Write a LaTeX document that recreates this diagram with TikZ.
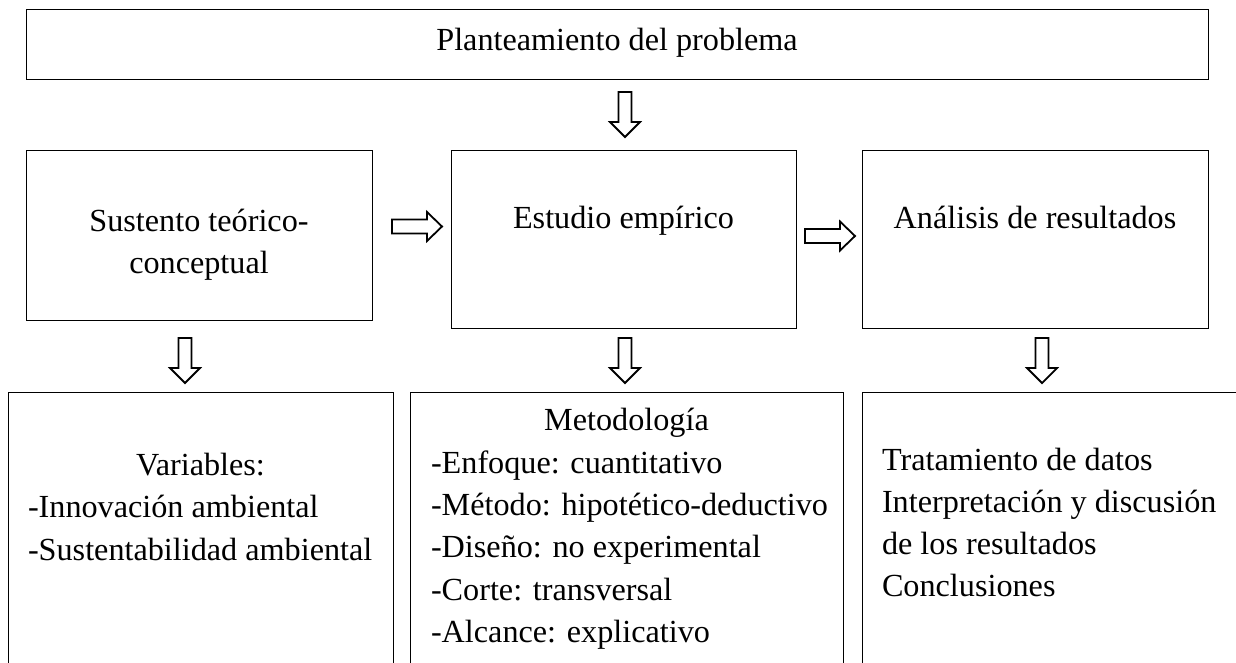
\documentclass[tikz,border=0pt]{standalone}
\usepackage{fontspec}
\setmainfont{Liberation Serif}
\usetikzlibrary{calc}
\begin{document}
\begin{tikzpicture}[x=1pt,y=-1pt,
  box/.style={draw=black, line width=1pt, inner sep=0pt, outer sep=0pt},
  txt/.style={inner sep=0pt, outer sep=0pt, font=\fontsize{32.2}{42.3}\selectfont},
  barrow/.style={draw=black, line width=1.8pt, line join=miter, fill=white},
  pics/downarrow/.style={code={\draw[barrow] (-6.5,0) -- (-6.5,30) -- (-15,30) -- (0,45) -- (15,30) -- (6.5,30) -- (6.5,0) -- cycle;}},
  pics/rightarrow/.style={code={\draw[barrow] (0,-7) -- (35,-7) -- (35,-14.5) -- (50,0) -- (35,14.5) -- (35,7) -- (0,7) -- cycle;}}]
\useasboundingbox (0,0) rectangle (1236,662);
\clip (0,0) rectangle (1236,662);
\fill[white] (0,0) rectangle (1236,662);

% boxes
\node[box, minimum width=1182pt, minimum height=70pt] (top) at (617,44) {};
\node[box, minimum width=346pt, minimum height=170pt] (sust) at (199,235) {};
\node[box, minimum width=345pt, minimum height=178pt] (estu) at (623.5,239) {};
\node[box, minimum width=346pt, minimum height=178pt] (anal) at (1035,239) {};
\node[box, minimum width=385pt, minimum height=328pt] (vars) at (200.5,556) {};
\node[box, minimum width=433pt, minimum height=328pt] (meto) at (626.5,556) {};
\node[box, minimum width=398pt, minimum height=328pt] (trat) at (1061,556) {};

% texts
\node[txt, anchor=base] (t0) at (617,50) {Planteamiento del problema};
\node[txt, anchor=base] (t1a) at (199,231) {Sustento teórico-};
\node[txt, anchor=base] (t1b) at (199,273) {conceptual};
\node[txt, anchor=base] (t2) at (623.5,228) {Estudio empírico};
\node[txt, anchor=base] (t3) at (1035,228) {Análisis de resultados};

\node[txt, anchor=base] (v0) at (200.5,475) {Variables:};
\node[txt, anchor=base west] (v1) at (28,517) {-Innovación ambiental};
\node[txt, anchor=base west] (v2) at (28,560) {-Sustentabilidad ambiental};

\node[txt, anchor=base] (m0) at (626.5,430) {Metodología};
\node[txt, anchor=base west] (m1) at (431,473) {-Enfoque: cuantitativo};
\node[txt, anchor=base west] (m2) at (431,515) {-Método: hipotético-deductivo};
\node[txt, anchor=base west] (m3) at (431,557) {-Diseño: no experimental};
\node[txt, anchor=base west] (m4) at (431,600) {-Corte: transversal};
\node[txt, anchor=base west] (m5) at (431,642) {-Alcance: explicativo};

\node[txt, anchor=base west] (r1) at (882,470) {Tratamiento de datos};
\node[txt, anchor=base west] (r2) at (882,512) {Interpretación y discusión};
\node[txt, anchor=base west] (r3) at (882,554) {de los resultados};
\node[txt, anchor=base west] (r4) at (882,596) {Conclusiones};

% block arrows
\pic at ($(top.south)+(8,13)$) {downarrow};
\pic at ($(sust.east)+(20,-8.5)$) {rightarrow};
\pic at ($(estu.east)+(9,-3)$) {rightarrow};
\pic at ($(sust.south)+(-14,18)$) {downarrow};
\pic at ($(estu.south)+(1.5,10)$) {downarrow};
\pic at ($(anal.south)+(7,10)$) {downarrow};
\end{tikzpicture}
\end{document}
